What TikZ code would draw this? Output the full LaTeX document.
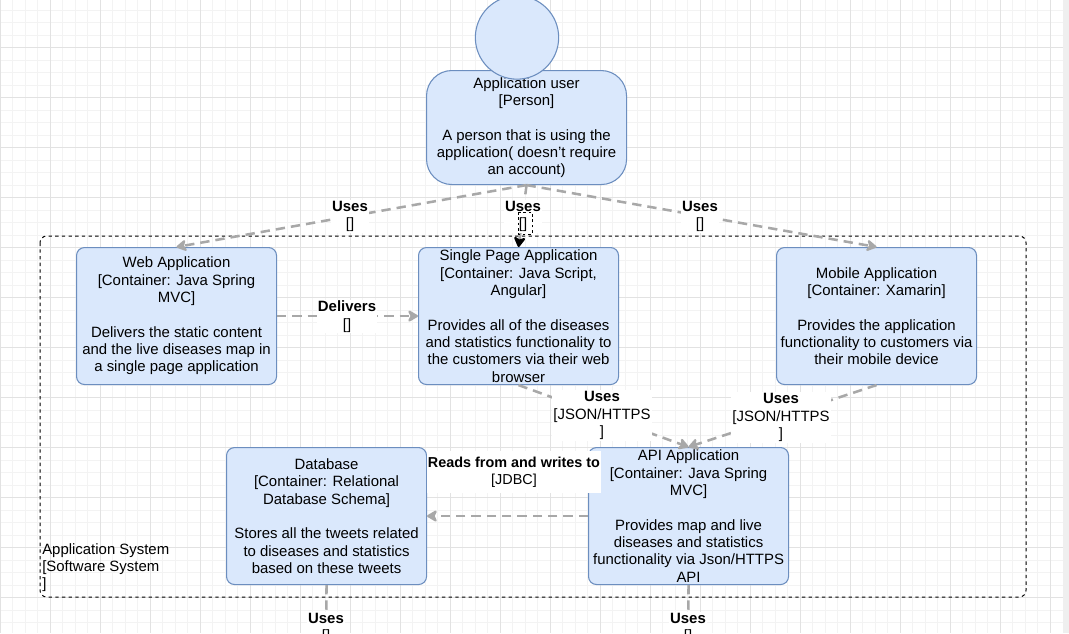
\documentclass[tikz,border=0pt]{standalone}
\usepackage{fontspec}
\setmainfont{Liberation Sans}
\usetikzlibrary{arrows.meta}
\definecolor{boxfill}{HTML}{DAE8FC}
\definecolor{boxline}{HTML}{6C8EBF}
\definecolor{conngrey}{HTML}{A8A8A8}
\definecolor{gridminor}{HTML}{F3F3F3}
\definecolor{gridmajor}{HTML}{E2E2E2}
\definecolor{scrollgrey}{HTML}{EFEFEF}
\begin{document}
\begin{tikzpicture}[x=0.75pt,y=-0.75pt,
  font=\fontsize{11.2}{13}\selectfont,
  container/.style={draw=boxline, fill=boxfill, line width=0.8pt, rounded corners=6pt,
    minimum width=150pt, minimum height=102.75pt, align=center, inner sep=0pt, anchor=north west},
  personbody/.style={draw=boxline, fill=boxfill, line width=0.8pt, rounded corners=19pt,
    minimum width=150pt, minimum height=85.5pt, align=center, inner sep=0pt, anchor=north west},
  personhead/.style={draw=boxline, fill=boxfill, line width=0.8pt, circle, minimum size=62.5pt, inner sep=0pt},
  connector/.style={draw=conngrey, line width=1.9pt, dash pattern=on 7pt off 4.5pt,
    -{Stealth[length=9pt,width=10.5pt,inset=2.5pt,round]}},
  lbl/.style={fill=white, inner sep=1pt, align=center},
  boundarybox/.style={draw=black, line width=0.75pt, dash pattern=on 2.5pt off 2.5pt, rounded corners=5pt}
]
\useasboundingbox (0,0) rectangle (1069,633);
\clip (0,0) rectangle (1069,633);
\fill[white] (0,0) rectangle (1069,633);
% grid
\foreach \x in {0,12.5,...,1062} \draw[gridminor, line width=0.75pt] (\x,0) -- (\x,633);
\foreach \y in {10,22.5,...,633} \draw[gridminor, line width=0.75pt] (0,\y) -- (1063,\y);
\foreach \x in {0,50,...,1050} \draw[gridmajor, line width=0.75pt] (\x,0) -- (\x,633);
\foreach \y in {47.5,97.5,...,633} \draw[gridmajor, line width=0.75pt] (0,\y) -- (1063,\y);
\fill[scrollgrey] (1063,0) rectangle (1069,633);

% boundary
\draw[boundarybox] (40,236) rectangle (1026,597);
\node[anchor=north west, align=left, inner sep=0pt] (sysname) at (42,543)
  {Application System\\{}[Software System\\{}]};

% person
\node[personbody] (user) at (426,70)
  {Application user\\{}[Person]\\[\baselineskip]A person that is using the\\application( doesn't require\\an account)};
\node[personhead] (head) at (517,37.5) {};

% containers
\node[container] (web) at (76,247)
  {Web Application\\{}[Container: Java Spring\\MVC]\\[\baselineskip]Delivers the static content\\and the live diseases map in\\a single page application};
\node[container] (spa) at (418,247)
  {Single Page Application\\{}[Container: Java Script,\\Angular]\\[\baselineskip]Provides all of the diseases\\and statistics functionality to\\the customers via their web\\browser};
\node[container] (mobile) at (776,247)
  {Mobile Application\\{}[Container: Xamarin]\\[\baselineskip]Provides the application\\functionality to customers via\\their mobile device};
\node[container] (db) at (226,447)
  {Database\\{}[Container: Relational\\Database Schema]\\[\baselineskip]Stores all the tweets related\\to diseases and statistics\\based on these tweets};
\node[container] (api) at (588,447)
  {API Application\\{}[Container: Java Spring\\MVC]\\[\baselineskip]Provides map and live\\diseases and statistics\\functionality via Json/HTTPS\\API};

\coordinate (dbout) at (326,660);
\coordinate (apiout) at (688,660);

% connectors
\draw[connector] (user.south) -- (web.north);
\draw[connector, -{Stealth[length=9pt,width=10.5pt,inset=2.5pt,round,color=black]}] (user.south) -- (spa.north);
\draw[connector] (user.south) -- (mobile.north);
\draw[connector] (web.east) -- (spa.west);
\draw[connector] (spa.south) -- (api.north);
\draw[connector] (mobile.south) -- (api.north);
\draw[connector] (api.west) -- (db.east);
\draw[connector, -] (db.south) -- (dbout);
\draw[connector, -] (api.south) -- (apiout);

% labels
\node[lbl] (l1) at (350,216.5) {\textbf{Uses}\\{}[]};
\node[lbl] (l2) at (523,216.5) {\textbf{Uses}\\{}[]};
\draw[black, line width=0.6pt, dash pattern=on 2pt off 2pt] (518,212) rectangle (532,234);
\node[lbl] (l3) at (700,216.5) {\textbf{Uses}\\{}[]};
\node[lbl] (l4) at (347,316.5) {\textbf{Delivers}\\{}[]};
\node[lbl] (l5) at (602,415.5) {\textbf{Uses}\\{}[JSON/HTTPS\\{}]};
\node[lbl] (l6) at (781,417.5) {\textbf{Uses}\\{}[JSON/HTTPS\\{}]};
\node[lbl, inner xsep=1pt, inner ysep=4pt, font=\fontsize{10.8}{13}\selectfont] (l7) at (514,472) {\textbf{Reads from and writes to}\\{}[JDBC]};
\node[lbl] (l8) at (326,628.5) {\textbf{Uses}\\{}[]};
\node[lbl] (l9) at (688,628.5) {\textbf{Uses}\\{}[]};
\end{tikzpicture}
\end{document}
